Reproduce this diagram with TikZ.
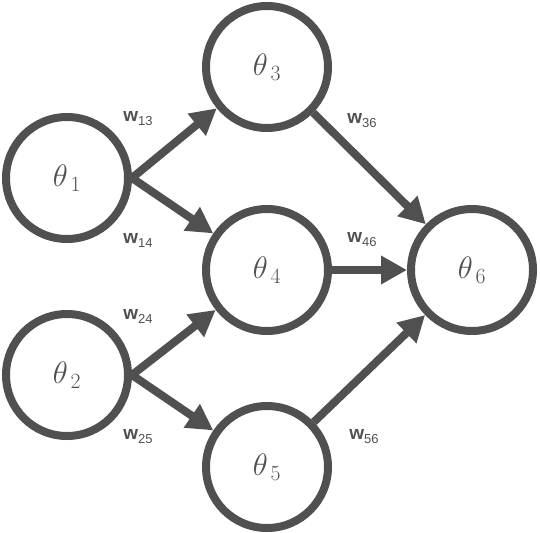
\RequirePackage{fix-cm}
\documentclass[tikz,border=0pt]{standalone}
\usepackage{fontspec}
\setsansfont{Liberation Sans}
\usetikzlibrary{arrows.meta}
\definecolor{ink}{HTML}{505050}
\begin{document}
\begin{tikzpicture}[x=1pt,y=-1pt,
  neuron/.style={circle,draw=ink,line width=8pt,minimum size=122pt,inner sep=0pt,text=ink,
    font=\fontsize{31}{31}\selectfont},
  conn/.style={draw=ink,line width=8pt,-{Triangle[length=26pt,width=27pt]}},
  wlab/.style={text=ink,inner sep=0pt}]
\useasboundingbox (0,0) rectangle (540,532);
\newcommand{\wl}[1]{\sffamily{\fontsize{19}{19}\selectfont\bfseries w}\raisebox{-4pt}{\fontsize{13}{13}\selectfont #1}}
\newcommand{\mytheta}[1]{$\theta_{\,#1}$}
\node[neuron] (n1) at (67,178) {\mytheta{1}};
\node[neuron] (n2) at (67,375) {\mytheta{2}};
\node[neuron] (n3) at (267,67) {\mytheta{3}};
\node[neuron] (n4) at (267,270) {\mytheta{4}};
\node[neuron] (n5) at (267,467) {\mytheta{5}};
\node[neuron] (n6) at (472,270) {\mytheta{6}};
\draw[conn] (n1.east) -- (n3);
\draw[conn] (n1.east) -- (n4);
\draw[conn] (n2.east) -- (n4);
\draw[conn] (n2.east) -- (n5);
\draw[conn] (n3) -- (n6);
\draw[conn] (n4) -- (n6);
\draw[conn] (n5) -- (n6);
\node[wlab] (l13) at (138,119) {\wl{13}};
\node[wlab] (l14) at (138,240) {\wl{14}};
\node[wlab] (l36) at (362,121) {\wl{36}};
\node[wlab] (l46) at (362,240) {\wl{46}};
\node[wlab] (l24) at (138,316) {\wl{24}};
\node[wlab] (l25) at (138,437) {\wl{25}};
\node[wlab] (l56) at (364,437) {\wl{56}};
\end{tikzpicture}
\end{document}
